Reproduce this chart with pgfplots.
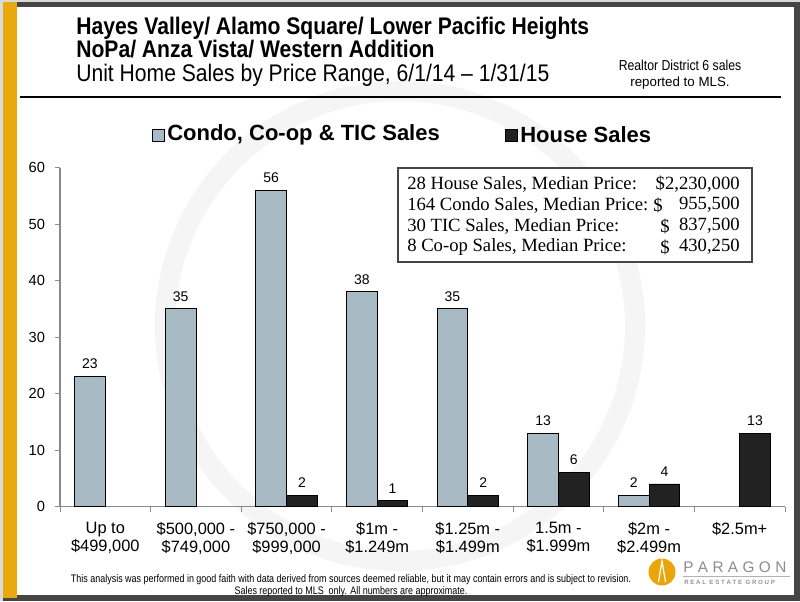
\documentclass[border=0pt]{standalone}
\usepackage{pgfplots}
\pgfplotsset{compat=1.18}
\usepackage{fontspec}
\setmainfont{Liberation Sans}
\newfontfamily\cond[FakeStretch=0.85]{Liberation Sans}
\newfontfamily\condf[FakeStretch=0.82]{Liberation Sans}
\newfontfamily\condt[FakeStretch=0.88]{Liberation Sans}
\newfontfamily\boxserif{Liberation Serif}
\definecolor{condo}{HTML}{A8BBC5}
\definecolor{house}{HTML}{222222}
\definecolor{gold}{HTML}{E8A90C}
\definecolor{frame}{HTML}{454545}
\definecolor{axgray}{HTML}{8A8A8A}
\begin{document}
\begin{tikzpicture}[x=0.75pt,y=0.75pt]
% canvas and frame
\fill[gray!30] (0,0) rectangle (800,601);
\fill[frame] (3,0) rectangle (800,599);
\fill[white] (17,6) rectangle (794,594);
\fill[gold] (3,3) rectangle (17,599);
% faint watermark
\draw[gray!8, line width=15pt] (400,275) circle (235);
% titles
\node[anchor=base west, inner sep=0] at (76,566) {\condt\bfseries\fontsize{18}{20}\selectfont Hayes Valley/ Alamo Square/ Lower Pacific Heights};
\node[anchor=base west, inner sep=0] at (76,543) {\condt\bfseries\fontsize{18}{20}\selectfont NoPa/ Anza Vista/ Western Addition};
\node[anchor=base west, inner sep=0] at (76,519) {\condt\fontsize{18}{20}\selectfont Unit Home Sales by Price Range, 6/1/14 – 1/31/15};
\node[align=center, inner sep=0] at (680,526.5) {\cond\fontsize{10.8}{11.25}\selectfont Realtor District 6 sales\\reported to MLS.};
\draw[black, line width=1.5pt] (20,504) -- (781,504);
% legend
\filldraw[fill=condo, draw=black, line width=0.5pt] (152,460) rectangle (164,472);
\node[anchor=west, inner sep=0] at (167,466) {\bfseries\fontsize{16.5}{18}\selectfont Condo, Co-op \& TIC Sales};
\filldraw[fill=house, draw=black, line width=0.5pt] (505,460) rectangle (517,472);
\node[anchor=west, inner sep=0] at (520,466) {\bfseries\fontsize{16.5}{18}\selectfont House Sales};
% axis
\begin{axis}[
  at={(45pt,70.875pt)}, anchor=south west,
  scale only axis, width=543.75pt, height=254.25pt,
  xmin=-0.5, xmax=7.5, ymin=0, ymax=60,
  /pgf/number format/assume math mode=true,
  ybar=0pt, bar width=23pt,
  axis x line*=bottom, axis y line*=left,
  axis line style={axgray, line width=0.8pt, -},
  ytick={0,10,...,60},
  yticklabel style={font=\fontsize{11}{12}\selectfont, xshift=-4pt},
  tick align=outside, major tick length=3.75pt,
  tick style={axgray, line width=0.6pt},
  xtick={-0.5,0.5,...,7.5}, xticklabels={},
  extra x ticks={0,1,2,3,4,5,6,7},
  extra x tick labels={{Up to\\\$499,000},{\$500,000 -\\\$749,000},{\$750,000 -\\\$999,000},{\$1m -\\\$1.249m},{\$1.25m -\\\$1.499m},{1.5m -\\\$1.999m},{\$2m -\\\$2.499m},{\$2.5m+\\\strut}},
  extra x tick style={major tick length=0pt, tick style={draw=none},
     xticklabel style={align=center, font=\fontsize{12.3}{13.5}\selectfont, yshift=-8pt}},
  nodes near coords,
  nodes near coords style={font=\fontsize{10.5}{12}\selectfont, yshift=2pt},
  clip=false,
]
\addplot[fill=condo, draw=black, line width=0.6pt, bar shift=-11.5pt] coordinates {(0,23) (1,35) (2,56) (3,38) (4,35) (5,13) (6,2)};
\addplot[fill=house, draw=black, line width=0.6pt, bar shift=11.5pt] coordinates {(2,2) (3,1) (4,2) (5,6) (6,4) (7,13)};
\end{axis}
% median box
\draw[fill=white, draw=frame, line width=0.8pt] (398,433) rectangle (752,339);
\begin{scope}[every node/.style={inner sep=0, font=\boxserif\fontsize{14}{16}\selectfont}]
\node[anchor=west] at (407,417) {28 House Sales, Median Price:};
\node[anchor=west] at (407,396) {164 Condo Sales, Median Price:};
\node[anchor=west] at (407,375) {30 TIC Sales, Median Price:};
\node[anchor=west] at (407,354) {8 Co-op Sales, Median Price:};
\node[anchor=east] at (740,417) {\$2,230,000};
\node[anchor=west] at (653,396) {\$};
\node[anchor=west] at (660,375) {\$};
\node[anchor=west] at (660,354) {\$};
\node[anchor=east] at (740,396) {955,500};
\node[anchor=east] at (740,375) {837,500};
\node[anchor=east] at (740,354) {430,250};
\end{scope}
% footer
\node[inner sep=0] at (351,21) {\condf\fontsize{8.2}{9}\selectfont This analysis was performed in good faith with data derived from sources deemed reliable, but it may contain errors and is subject to revision.};
\node[inner sep=0] at (351,9) {\condf\fontsize{8.2}{9}\selectfont Sales reported to MLS\ \ only. All numbers are approximate.};
% logo
\fill[gold!90!orange] (662,29) circle (13.5);
\draw[white, line width=0.9pt] (658.5,19) -- (662,40) -- (665.5,19);
\node[anchor=west, inner sep=0, text=gray!90] at (683,34) {\fontsize{11.5}{12}\selectfont P\hspace{3.3pt}A\hspace{3.3pt}R\hspace{3.3pt}A\hspace{3.3pt}G\hspace{3.3pt}O\hspace{3.3pt}N};
\draw[gray!60, line width=0.5pt] (683,25) -- (790,25);
\node[anchor=west, inner sep=0, text=gray!85] at (684,19) {\bfseries\fontsize{4.6}{5}\selectfont R E A L\ \ E S T A T E\ \ G R O U P};
\end{tikzpicture}
\end{document}
